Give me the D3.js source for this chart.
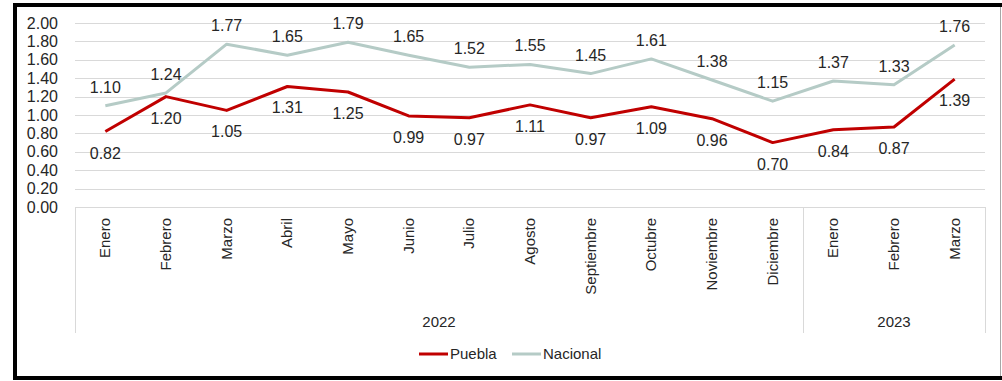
<!DOCTYPE html>
<html>
<head>
<meta charset="utf-8">
<script src="https://cdn.jsdelivr.net/npm/d3@7/dist/d3.min.js"></script>
<style>
  html, body { margin: 0; padding: 0; background: #fff; }
  svg { display: block; }
  text { font-family: "Liberation Sans", Arial, sans-serif; fill: #262626; }
</style>
</head>
<body>
<div id="chart"></div>
<script>
// Monthly values, January 2022 – March 2023
const months = ["Enero", "Febrero", "Marzo", "Abril", "Mayo", "Junio", "Julio", "Agosto",
  "Septiembre", "Octubre", "Noviembre", "Diciembre", "Enero", "Febrero", "Marzo"];
const years = [
  { label: "2022", start: 0, end: 12 },
  { label: "2023", start: 12, end: 15 }
];
const puebla = [0.82, 1.20, 1.05, 1.31, 1.25, 0.99, 0.97, 1.11, 0.97, 1.09, 0.96, 0.70, 0.84, 0.87, 1.39];
const nacional = [1.10, 1.24, 1.77, 1.65, 1.79, 1.65, 1.52, 1.55, 1.45, 1.61, 1.38, 1.15, 1.37, 1.33, 1.76];
const yTicks = [0, 0.2, 0.4, 0.6, 0.8, 1.0, 1.2, 1.4, 1.6, 1.8, 2.0];

const W = 1002, H = 381;
const plot = { left: 75, right: 985, top: 23, bottom: 207 };
const catBottom = 333;

const svg = d3.select("#chart").append("svg").attr("width", W).attr("height", H);

// frame
svg.append("rect").attr("x", 15).attr("y", 5).attr("width", 1000).attr("height", 373)
  .attr("fill", "#fff").attr("stroke", "#000").attr("stroke-width", 4);
svg.append("line").attr("x1", 1000.5).attr("x2", 1000.5).attr("y1", 7).attr("y2", 376)
  .attr("stroke", "#a6a6a6").attr("stroke-width", 1);

const x = d3.scaleBand().domain(d3.range(months.length)).range([plot.left, plot.right]);
const cx = i => x(i) + x.bandwidth() / 2;
const y = d3.scaleLinear().domain([0, 2]).range([plot.bottom, plot.top]);

// gridlines
svg.append("g").selectAll("line").data(yTicks).join("line")
  .attr("x1", plot.left).attr("x2", plot.right)
  .attr("y1", d => Math.round(y(d)) + 0.5).attr("y2", d => Math.round(y(d)) + 0.5)
  .attr("stroke", "#d9d9d9").attr("stroke-width", 1);

// y axis labels
const yAxis = d3.axisLeft(y).tickValues(yTicks).tickFormat(d3.format(".2f")).tickSize(0).tickPadding(0);
const yg = svg.append("g").attr("transform", "translate(58,0)").call(yAxis);
yg.select(".domain").remove();
yg.selectAll("text").attr("font-size", 16).attr("fill", "#262626")
  .attr("font-family", "Liberation Sans, Arial, sans-serif");

// category axis box
const sep = [plot.left, x(12), plot.right];
svg.append("g").selectAll("line").data(sep).join("line")
  .attr("x1", d => Math.round(d) + 0.5).attr("x2", d => Math.round(d) + 0.5)
  .attr("y1", plot.bottom).attr("y2", catBottom)
  .attr("stroke", "#d9d9d9");

svg.append("g").selectAll("text").data(months).join("text")
  .attr("transform", (d, i) => `translate(${cx(i) + 5},218) rotate(-90)`)
  .attr("text-anchor", "end").attr("font-size", 15)
  .text(d => d);

svg.append("g").selectAll("text").data(years).join("text")
  .attr("x", d => (x(d.start) + (d.end < months.length ? x(d.end) : plot.right)) / 2)
  .attr("y", 327).attr("text-anchor", "middle").attr("font-size", 15)
  .text(d => d.label);

// lines
const line = d3.line().x((d, i) => cx(i)).y(d => y(d));
svg.append("path").datum(nacional).attr("d", line)
  .attr("fill", "none").attr("stroke", "#b5cbc6").attr("stroke-width", 3).attr("stroke-linejoin", "round");
svg.append("path").datum(puebla).attr("d", line)
  .attr("fill", "none").attr("stroke", "#c00000").attr("stroke-width", 3).attr("stroke-linejoin", "round");

// data labels
const fmt = d3.format(".2f");
svg.append("g").selectAll("text").data(nacional).join("text")
  .attr("x", (d, i) => cx(i)).attr("y", d => y(d) - 13)
  .attr("text-anchor", "middle").attr("font-size", 16).text(d => fmt(d));
svg.append("g").selectAll("text").data(puebla).join("text")
  .attr("x", (d, i) => cx(i)).attr("y", d => y(d) + 27)
  .attr("text-anchor", "middle").attr("font-size", 16).text(d => fmt(d));

// legend
const legend = [
  { name: "Puebla", color: "#c00000", x: 419 },
  { name: "Nacional", color: "#b5cbc6", x: 512 }
];
const lg = svg.append("g").selectAll("g").data(legend).join("g")
  .attr("transform", d => `translate(${d.x},354)`);
lg.append("line").attr("x1", 0).attr("x2", 29).attr("stroke", d => d.color).attr("stroke-width", 3);
lg.append("text").attr("x", 31).attr("y", 5).attr("font-size", 15).text(d => d.name);
</script>
</body>
</html>
